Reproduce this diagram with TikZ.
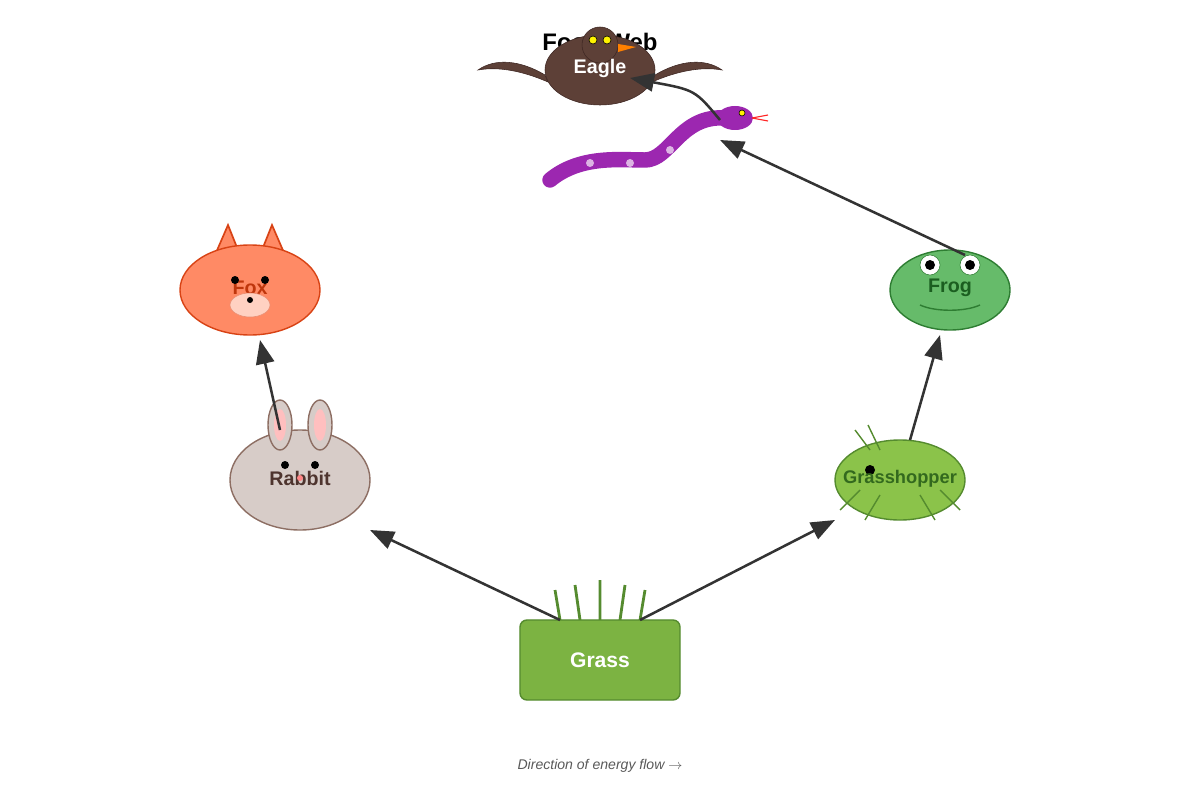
\documentclass[tikz,border=0pt]{standalone}
\usepackage{fontspec}
\setmainfont{Liberation Sans}
\usetikzlibrary{arrows.meta}
\definecolor{arrowgray}{HTML}{333333}
\definecolor{eaglebody}{HTML}{5D4037}
\definecolor{eagleline}{HTML}{3E2723}
\definecolor{snakepurple}{HTML}{9C27B0}
\definecolor{foxfill}{HTML}{FF8A65}
\definecolor{foxline}{HTML}{D84315}
\definecolor{foxtext}{HTML}{BF360C}
\definecolor{rabbitfill}{HTML}{D7CCC8}
\definecolor{rabbitline}{HTML}{8D6E63}
\definecolor{rabbittext}{HTML}{4E342E}
\definecolor{frogfill}{HTML}{66BB6A}
\definecolor{frogline}{HTML}{2E7D32}
\definecolor{frogtext}{HTML}{1B5E20}
\definecolor{hopfill}{HTML}{8BC34A}
\definecolor{hopline}{HTML}{558B2F}
\definecolor{hoptext}{HTML}{33691E}
\definecolor{grassfill}{HTML}{7CB342}
\tikzset{
  label/.style={font=\bfseries\fontsize{14}{16}\selectfont},
  flow/.style={-{Triangle[length=17pt,width=13pt]}, draw=arrowgray, line width=1.8pt},
}
\begin{document}
\begin{tikzpicture}[x=0.025cm,y=-0.025cm]
  \useasboundingbox (0,0) rectangle (1200,800);
  \node[font=\bfseries\fontsize{17}{20}\selectfont] (title) at (600,42) {Food Web};

  % eagle
  \fill[eaglebody, draw=eagleline] (545,75) .. controls (520,60) and (495,58) .. (478,70) .. controls (500,66) and (525,72) .. (548,82) -- cycle;
  \fill[eaglebody, draw=eagleline] (655,75) .. controls (680,60) and (705,58) .. (722,70) .. controls (700,66) and (675,72) .. (652,82) -- cycle;
  \draw[fill=eaglebody, draw=eagleline] (600,70) ellipse (55 and 35);
  \draw[fill=eaglebody, draw=eagleline] (600,45) circle (18);
  \draw[fill=yellow, draw=black, thin] (593,40) circle (4) (607,40) circle (4);
  \fill[orange] (618,44) -- (636,47) -- (618,52) -- cycle;
  \node[label, white] (eagle) at (600,68) {Eagle};

  % snake
  \draw[snakepurple, line width=11pt, line cap=round] (550,180) .. controls (580,155) and (620,160) .. (645,160) .. controls (670,160) and (680,115) .. (725,118);
  \fill[snakepurple] (735,118) ellipse (18 and 12);
  \draw[fill=yellow, thin] (742,113) circle (3);
  \draw[red!80!pink, thick] (752,118) -- (768,115) (752,118) -- (768,121);
  \fill[snakepurple!35!white] (590,163) circle (4) (630,163) circle (4) (670,150) circle (4);
  \coordinate (snake) at (720,140);
  \coordinate (snaketail) at (720,120);

  % fox
  \draw[fill=foxfill, draw=foxline, line width=1.2pt] (215,255) -- (228,225) -- (240,255) (260,255) -- (272,225) -- (285,255);
  \draw[fill=foxfill, draw=foxline, line width=1pt] (250,290) ellipse (70 and 45);
  \node[label, text=foxtext] (fox) at (250,288) {Fox};
  \fill (235,280) circle (4) (265,280) circle (4);
  \draw[fill=orange!20!pink!60!white, draw=foxline!60] (250,305) ellipse (20 and 12);
  \fill (250,300) circle (3);
  \coordinate (foxin) at (260,340);

  % rabbit
  \draw[fill=rabbitfill, draw=rabbitline, line width=1pt] (300,480) ellipse (70 and 50);
  \draw[fill=rabbitfill, draw=rabbitline, line width=1pt] (280,425) ellipse (12 and 25) (320,425) ellipse (12 and 25);
  \fill[pink] (280,425) ellipse (6 and 16) (320,425) ellipse (6 and 16);
  \fill (285,465) circle (4) (315,465) circle (4);
  \node[label, text=rabbittext] (rabbit) at (300,478) {Rabbit};
  \fill[pink!70!red] (300,478) circle (3);
  \coordinate (rabbitin) at (370,530);
  \coordinate (rabbitout) at (280,430);

  % frog
  \draw[fill=frogfill, draw=frogline, line width=1pt] (950,290) ellipse (60 and 40);
  \draw[fill=white, draw=frogline] (930,265) circle (10) (970,265) circle (10);
  \fill (930,265) circle (5) (970,265) circle (5);
  \node[label, text=frogtext] (frog) at (950,288) {Frog};
  \draw[frogline, line width=1pt] (920,305) .. controls (935,312) and (965,312) .. (980,305);
  \coordinate (frogin) at (940,335);
  \coordinate (frogout) at (965,255);

  % grasshopper
  \draw[fill=hopfill, draw=hopline, line width=1pt] (900,480) ellipse (65 and 40);
  \draw[hopline, line width=1pt] (870,450) -- (855,430) (880,450) -- (868,425)
    (860,490) -- (840,510) (880,495) -- (865,520) (920,495) -- (935,520) (940,490) -- (960,510);
  \fill (870,470) circle (5);
  \node[text=hoptext, font=\bfseries\fontsize{13}{15}\selectfont] (hopper) at (900,479) {Grasshopper};
  \coordinate (hopin) at (835,520);
  \coordinate (hopout) at (910,440);

  % grass
  \draw[hopline, line width=2pt] (560,620) -- (555,590) (580,620) -- (575,585) (600,620) -- (600,580) (620,620) -- (625,585) (640,620) -- (645,590);
  \node[draw=hopline, fill=grassfill, line width=1pt, rounded corners=5pt, minimum width=4cm, minimum height=2cm,
    text=white, font=\bfseries\fontsize{15}{18}\selectfont] (grass) at (600,660) {Grass};
  \coordinate (grassl) at (560,620);
  \coordinate (grassr) at (640,620);

  % energy flow
  \draw[flow] (grassl) -- (rabbitin);
  \draw[flow] (grassr) -- (hopin);
  \draw[flow] (rabbitout) -- (foxin);
  \draw[flow] (hopout) -- (frogin);
  \draw[flow] (frogout) -- (snake);
  \draw[flow] (snaketail) .. controls (695,90) .. (630,78);

  \node[text=black!65, font=\itshape\fontsize{10}{12}\selectfont] (caption) at (600,766) {Direction of energy flow $\rightarrow$};
\end{tikzpicture}
\end{document}
